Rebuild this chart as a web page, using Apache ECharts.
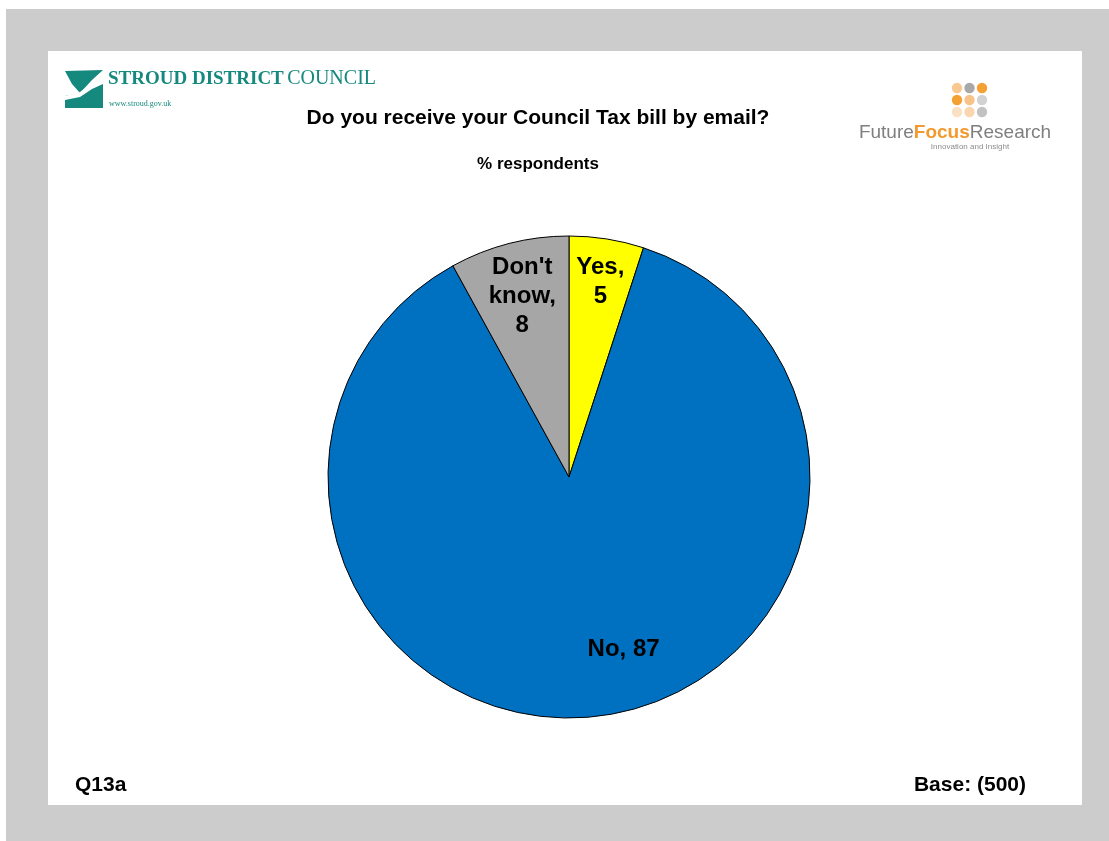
<!DOCTYPE html>
<html>
<head>
<meta charset="utf-8">
<script src="https://cdn.jsdelivr.net/npm/echarts@6/dist/echarts.min.js"></script>
<style>
  html, body { margin: 0; padding: 0; background: #CCCCCC; overflow: hidden; }
  #chart { width: 1109px; height: 841px; }
</style>
</head>
<body>
<div id="chart"></div>
<script>
// Survey answers, % of respondents
const categories = ['Yes', 'No', "Don't know"];
const values = [5, 87, 8];
const sliceColors = ['#FFFF00', '#0070C0', '#A6A6A6'];
const labelBreaks = ['Yes,\n', 'No, ', "Don't\nknow,\n"];

const titleText = 'Do you receive your Council Tax bill by email?';
const subtitleText = '% respondents';
const questionId = 'Q13a';
const baseText = 'Base: (500)';

// label nudges from the default inner anchor, per slice
const labelShift = [[12, -73], [43, 49], [-16, -61]];

const chart = echarts.init(document.getElementById('chart'), null, { renderer: 'canvas', width: 1109, height: 841 });

const sans = '"Liberation Sans", Arial, sans-serif';
const serif = '"Liberation Serif", "DejaVu Serif", serif';
const narrow = '"Liberation Sans Narrow", "Liberation Sans", Arial, sans-serif';

// logo dot grid colours (3 x 3)
const dotColors = [
  ['#F9C88F', '#A8A8A8', '#F5A033'],
  ['#F5A033', '#F8C389', '#D2D2D2'],
  ['#FBE1C4', '#FAD6AE', '#C2C2C2']
];
const dotGraphics = [];
dotColors.forEach((row, r) => row.forEach((c, k) => {
  dotGraphics.push({
    type: 'circle',
    shape: { cx: 957 + k * 12.5, cy: 88 + r * 12, r: 5.2 },
    style: { fill: c }
  });
}));

const option = {
  animation: false,
  backgroundColor: '#ffffff',
  graphic: [
    { type: 'rect', z: -10, shape: { x: 6, y: 9, width: 1120, height: 840 }, style: { fill: '#CCCCCC' } },
    { type: 'rect', z: -9, shape: { x: 48, y: 51, width: 1034, height: 754 }, style: { fill: '#FFFFFF' } },
    // council logo mark
    { type: 'polygon', shape: { points: [[65, 71], [103, 70], [92, 80], [80, 93], [72, 84]] }, style: { fill: '#15897E' } },
    { type: 'polygon', shape: { points: [[65, 96], [80, 93], [92, 85], [103, 80], [103, 108], [65, 108]] }, style: { fill: '#15897E' } },
    { type: 'polygon', shape: { points: [[65, 96], [80, 92], [92, 83], [103, 79], [103, 84], [92, 89], [80, 97], [65, 100]] }, style: { fill: '#FFFFFF' } },
    { type: 'text', style: { x: 108, y: 79, verticalAlign: 'middle',
      rich: {
        b: { font: 'bold 19px ' + serif, fill: '#15897E' },
        r: { font: '20px ' + serif, fill: '#15897E' }
      },
      text: '{b|STROUD DISTRICT} {r|COUNCIL}' } },
    { type: 'text', style: { x: 109, y: 104, text: 'www.stroud.gov.uk', font: '8px ' + serif, fill: '#15897E', verticalAlign: 'middle' } },
    // research logo
    ...dotGraphics,
    { type: 'text', style: { x: 955, y: 133, align: 'center', verticalAlign: 'middle',
      rich: {
        a: { font: '19px ' + narrow, fill: '#7F7F7F' },
        b: { font: 'bold 19px ' + narrow, fill: '#F39A2E' }
      },
      text: '{a|Future}{b|Focus}{a|Research}' } },
    { type: 'text', style: { x: 970, y: 147, text: 'Innovation and Insight', font: '8px ' + narrow, fill: '#8C8C8C', align: 'center', verticalAlign: 'middle' } },
    // titles and footer
    { type: 'text', style: { x: 538, y: 118, text: titleText, font: 'bold 21px ' + sans, fill: '#000', align: 'center', verticalAlign: 'middle' } },
    { type: 'text', style: { x: 538, y: 164, text: subtitleText, font: 'bold 17px ' + sans, fill: '#000', align: 'center', verticalAlign: 'middle' } },
    { type: 'text', style: { x: 75, y: 785, text: questionId, font: 'bold 21px ' + sans, fill: '#000', align: 'left', verticalAlign: 'middle' } },
    { type: 'text', style: { x: 1026, y: 785, text: baseText, font: 'bold 21px ' + sans, fill: '#000', align: 'right', verticalAlign: 'middle' } }
  ],
  series: [{
    type: 'pie',
    center: [569, 477],
    radius: 241,
    startAngle: 90,
    clockwise: true,
    silent: true,
    itemStyle: { borderColor: '#000000', borderWidth: 1 },
    label: {
      show: true,
      position: 'inside',
      color: '#000',
      fontFamily: sans,
      fontWeight: 'bold',
      fontSize: 24,
      lineHeight: 29,
      align: 'center'
    },
    labelLine: { show: false },
    labelLayout: (p) => ({ dx: labelShift[p.dataIndex][0], dy: labelShift[p.dataIndex][1] }),
    data: categories.map((name, i) => ({
      name,
      value: values[i],
      itemStyle: { color: sliceColors[i] },
      label: { formatter: labelBreaks[i] + values[i] }
    }))
  }]
};

chart.setOption(option);
</script>
</body>
</html>
